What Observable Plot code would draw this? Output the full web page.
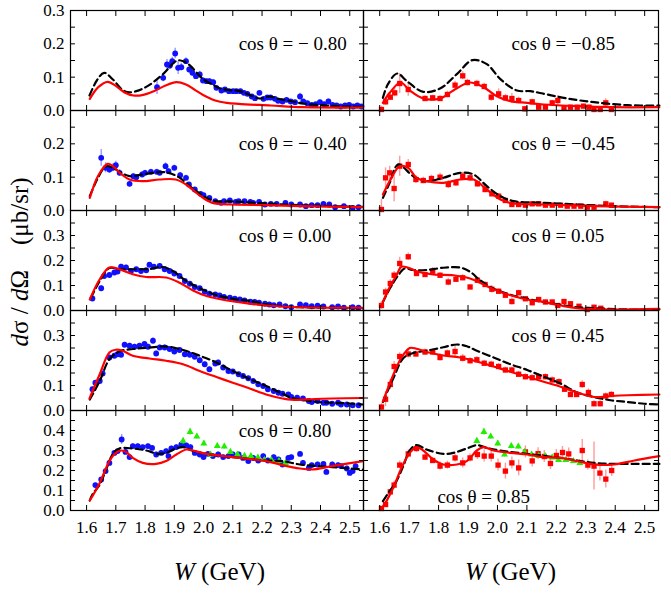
<!DOCTYPE html>
<html>
<head>
<meta charset="utf-8">
<script src="https://cdn.jsdelivr.net/npm/d3@7"></script>
<script src="https://cdn.jsdelivr.net/npm/@observablehq/plot@0.6"></script>
<style>
  body { margin: 0; background: #fff; }
  #chart { position: relative; width: 671px; height: 600px; font-family: "Liberation Serif", "Times New Roman", serif; color: #000; }
  #chart svg text { font-family: "Liberation Serif", "Times New Roman", serif; }
  .xt { position: absolute; top: 572px; transform: translate(-50%, -50%); font-size: 25px; white-space: nowrap; }
  .yt { position: absolute; left: 20px; top: 262px; transform: translate(-50%, -50%) rotate(-90deg); font-size: 25px; white-space: nowrap; }
</style>
</head>
<body>
<div id="chart">
  <div class="yt"><i>d</i>σ / <i>d</i>Ω&emsp;(μb/sr)</div>
  <div class="xt" style="left:219.5px"><i>W</i> (GeV)</div>
  <div class="xt" style="left:510.5px"><i>W</i> (GeV)</div>
</div>
<script>
// ---------- axes ----------
const xDomain = [1.545, 2.547];
const wTicks = [1.6, 1.7, 1.8, 1.9, 2.0, 2.1, 2.2, 2.3, 2.4, 2.5];
const yMinor03 = [0, 0.05, 0.1, 0.15, 0.2, 0.25, 0.3];
const yMinor04 = [0, 0.05, 0.1, 0.15, 0.2, 0.25, 0.3, 0.35, 0.4];
const yMinor05 = [0, 0.05, 0.1, 0.15, 0.2, 0.25, 0.3, 0.35, 0.4, 0.45, 0.5];
const yLabels1 = [0, 0.1, 0.2, 0.3];
const yLabels2 = [0, 0.1, 0.2];
const yLabels3 = [0, 0.1, 0.2, 0.3];
const yLabels4 = [0, 0.1, 0.2, 0.3];
const yLabels5 = [0, 0.1, 0.2, 0.3, 0.4];
const rowMax = [0.3, 0.3, 0.4, 0.4, 0.5];
const labelsL = ["cos θ = − 0.80", "cos θ = − 0.40", "cos θ = 0.00", "cos θ = 0.40", "cos θ = 0.80"];
const labelsR = ["cos θ = −0.85", "cos θ = −0.45", "cos θ = 0.05", "cos θ = 0.45", "cos θ = 0.85"];

// ---------- row 1 ----------
const dashL1 = [[1.610,0.045],[1.635,0.09],[1.660,0.113],[1.690,0.093],[1.720,0.064],[1.740,0.055],[1.770,0.058],[1.810,0.074],[1.860,0.108],[1.910,0.150],[1.935,0.146],[1.955,0.134],[1.980,0.11],[2.000,0.093],[2.030,0.078],[2.055,0.067],[2.090,0.061],[2.120,0.059],[2.160,0.046],[2.192,0.036],[2.225,0.042],[2.260,0.034],[2.290,0.030],[2.340,0.021],[2.400,0.016],[2.460,0.013],[2.545,0.011]];
const redL1 = [[1.611,0.035],[1.640,0.07],[1.672,0.086],[1.700,0.074],[1.730,0.054],[1.760,0.045],[1.790,0.046],[1.830,0.058],[1.870,0.075],[1.907,0.085],[1.940,0.078],[1.970,0.062],[2.000,0.046],[2.040,0.03],[2.080,0.023],[2.120,0.02],[2.230,0.015],[2.340,0.01],[2.545,0.009]];
const blueL1 = [[1.841,0.070,0.022],[1.862,0.098,0.012],[1.875,0.138,0.015],[1.885,0.135,0.012],[1.893,0.148,0.012],[1.903,0.171,0.016],[1.913,0.128,0.02],[1.924,0.130,0.012],[1.940,0.148,0.01],[1.951,0.123,0.01],[1.962,0.113,0.01],[1.974,0.103,0.008],[1.987,0.108,0.01],[1.998,0.090,0.008],[2.010,0.088,0.008],[2.020,0.088,0.008],[2.033,0.085,0.008],[2.044,0.068,0.006],[2.061,0.060,0.006],[2.073,0.063,0.006],[2.087,0.058,0.006],[2.101,0.058,0.006],[2.112,0.058,0.006],[2.126,0.058,0.006],[2.138,0.053,0.006],[2.150,0.050,0.006],[2.165,0.042,0.006],[2.176,0.037,0.006],[2.191,0.053,0.006],[2.205,0.035,0.006],[2.218,0.039,0.006],[2.229,0.039,0.006],[2.244,0.035,0.006],[2.255,0.029,0.006],[2.270,0.027,0.006],[2.284,0.032,0.006],[2.298,0.027,0.006],[2.313,0.025,0.006],[2.330,0.042,0.01],[2.341,0.027,0.006],[2.355,0.022,0.006],[2.370,0.017,0.006],[2.384,0.019,0.006],[2.398,0.025,0.006],[2.412,0.019,0.006],[2.427,0.027,0.008],[2.441,0.017,0.006],[2.455,0.015,0.006],[2.469,0.012,0.006],[2.484,0.015,0.006],[2.498,0.017,0.006],[2.512,0.012,0.006],[2.526,0.015,0.006],[2.540,0.012,0.006]];
const dashR1 = [[1.611,0.038],[1.628,0.079],[1.660,0.111],[1.691,0.089],[1.748,0.056],[1.805,0.066],[1.862,0.109],[1.915,0.151],[1.964,0.139],[2.010,0.094],[2.066,0.06],[2.112,0.058],[2.169,0.048],[2.237,0.036],[2.328,0.025],[2.442,0.016],[2.550,0.015]];
const redR1 = [[1.611,0.023],[1.634,0.053],[1.671,0.084],[1.702,0.06],[1.748,0.036],[1.805,0.036],[1.850,0.06],[1.905,0.084],[1.953,0.07],[1.998,0.043],[2.044,0.028],[2.101,0.023],[2.157,0.018],[2.271,0.013],[2.385,0.01],[2.550,0.01]];
const sqR1 = [[1.606,0.003,0.01],[1.620,0.026,0.01],[1.636,0.04,0.01],[1.651,0.053,0.012],[1.668,0.081,0.03],[1.697,0.063,0.02],[1.754,0.036,0.008],[1.780,0.038,0.008],[1.805,0.036,0.008],[1.830,0.048,0.01],[1.856,0.076,0.012],[1.882,0.104,0.012],[1.898,0.084,0.01],[1.930,0.081,0.01],[1.955,0.072,0.01],[1.979,0.04,0.012],[2.004,0.05,0.015],[2.027,0.038,0.01],[2.049,0.036,0.015],[2.072,0.03,0.01],[2.093,0.005,0.008],[2.118,0.026,0.008],[2.140,0.01,0.006],[2.163,0.01,0.006],[2.186,0.023,0.008],[2.205,0.03,0.015],[2.226,0.008,0.006],[2.248,0.01,0.006],[2.271,0.01,0.006],[2.292,0.013,0.006],[2.311,0.01,0.006],[2.328,0.003,0.005],[2.349,0.003,0.005],[2.368,0.023,0.012],[2.387,0.003,0.005]];

// ---------- row 2 ----------
const dashL2 = [[1.611,0.043],[1.640,0.10],[1.667,0.133],[1.690,0.128],[1.720,0.112],[1.747,0.103],[1.790,0.108],[1.850,0.115],[1.880,0.113],[1.915,0.10],[1.960,0.068],[2.010,0.038],[2.040,0.028],[2.100,0.027],[2.214,0.021],[2.330,0.016],[2.440,0.013],[2.545,0.011]];
const redL2 = [[1.611,0.038],[1.640,0.105],[1.672,0.14],[1.690,0.133],[1.720,0.108],[1.747,0.093],[1.790,0.088],[1.850,0.093],[1.905,0.093],[1.940,0.078],[1.990,0.043],[2.030,0.023],[2.100,0.018],[2.210,0.016],[2.330,0.013],[2.545,0.01]];
const blueL2 = [[1.650,0.158,0.025],[1.665,0.128,0.015],[1.678,0.123,0.012],[1.690,0.128,0.012],[1.700,0.136,0.012],[1.713,0.113,0.01],[1.747,0.080,0.008],[1.760,0.103,0.008],[1.770,0.100,0.008],[1.790,0.108,0.008],[1.800,0.113,0.008],[1.820,0.116,0.008],[1.840,0.116,0.008],[1.850,0.113,0.008],[1.870,0.133,0.01],[1.880,0.118,0.008],[1.900,0.128,0.008],[1.920,0.106,0.008],[1.940,0.098,0.008],[1.950,0.078,0.006],[1.970,0.063,0.006],[1.990,0.050,0.006],[2.000,0.046,0.006],[2.020,0.038,0.005],[2.040,0.028,0.005],[2.060,0.023,0.005],[2.070,0.028,0.005],[2.090,0.030,0.005],[2.110,0.026,0.005],[2.120,0.028,0.005],[2.140,0.028,0.005],[2.160,0.026,0.005],[2.170,0.023,0.005],[2.190,0.026,0.005],[2.210,0.018,0.005],[2.230,0.020,0.005],[2.250,0.020,0.005],[2.280,0.023,0.005],[2.300,0.018,0.005],[2.330,0.018,0.005],[2.350,0.013,0.005],[2.370,0.016,0.005],[2.390,0.016,0.005],[2.410,0.020,0.005],[2.430,0.018,0.005],[2.450,0.010,0.005],[2.480,0.013,0.005],[2.510,0.008,0.005],[2.530,0.010,0.005]];
const dashR2 = [[1.611,0.038],[1.634,0.083],[1.663,0.138],[1.714,0.103],[1.759,0.088],[1.816,0.098],[1.873,0.113],[1.919,0.108],[1.964,0.073],[2.010,0.043],[2.055,0.028],[2.157,0.023],[2.271,0.018],[2.385,0.013],[2.550,0.01]];
const redR2 = [[1.611,0.048],[1.640,0.098],[1.668,0.133],[1.697,0.128],[1.725,0.098],[1.759,0.088],[1.816,0.083],[1.873,0.093],[1.919,0.093],[1.964,0.063],[2.010,0.033],[2.055,0.021],[2.157,0.018],[2.328,0.013],[2.550,0.01]];
const sqR2 = [[1.606,0.003,0.03],[1.620,0.098,0.03],[1.634,0.113,0.02],[1.649,0.066,0.04],[1.668,0.133,0.03],[1.697,0.138,0.015],[1.723,0.093,0.012],[1.748,0.09,0.01],[1.776,0.096,0.01],[1.805,0.1,0.012],[1.833,0.078,0.012],[1.859,0.083,0.01],[1.882,0.103,0.012],[1.907,0.098,0.01],[1.932,0.08,0.01],[1.958,0.063,0.01],[1.981,0.05,0.008],[2.004,0.043,0.008],[2.027,0.03,0.008],[2.049,0.018,0.006],[2.072,0.018,0.006],[2.095,0.016,0.006],[2.118,0.02,0.006],[2.140,0.02,0.006],[2.163,0.016,0.006],[2.186,0.016,0.006],[2.214,0.016,0.006],[2.237,0.013,0.005],[2.260,0.013,0.005],[2.283,0.013,0.005],[2.305,0.01,0.005],[2.328,0.01,0.005],[2.368,0.02,0.008],[2.387,0.016,0.006]];

// ---------- row 3 ----------
const dashL3 = [[1.615,0.051],[1.645,0.118],[1.678,0.170],[1.712,0.165],[1.758,0.165],[1.815,0.166],[1.861,0.174],[1.895,0.158],[1.941,0.118],[1.987,0.089],[2.044,0.062],[2.100,0.047],[2.160,0.038],[2.214,0.025],[2.270,0.017],[2.330,0.013],[2.440,0.011],[2.545,0.008]];
const redL3 = [[1.611,0.044],[1.645,0.125],[1.678,0.172],[1.712,0.165],[1.758,0.145],[1.804,0.134],[1.872,0.132],[1.918,0.111],[1.964,0.080],[2.010,0.058],[2.080,0.040],[2.160,0.027],[2.214,0.020],[2.330,0.013],[2.545,0.011]];
const blueL3 = [[1.620,0.048,0.008],[1.650,0.089,0.01],[1.660,0.138,0.01],[1.678,0.142,0.01],[1.695,0.152,0.01],[1.706,0.156,0.01],[1.718,0.175,0.01],[1.735,0.172,0.01],[1.752,0.158,0.008],[1.770,0.165,0.008],[1.786,0.158,0.008],[1.804,0.161,0.008],[1.815,0.183,0.008],[1.830,0.175,0.008],[1.850,0.178,0.008],[1.867,0.165,0.008],[1.884,0.158,0.008],[1.900,0.148,0.008],[1.918,0.138,0.008],[1.936,0.118,0.008],[1.953,0.107,0.006],[1.970,0.094,0.006],[1.987,0.089,0.006],[2.004,0.075,0.006],[2.020,0.067,0.006],[2.040,0.064,0.006],[2.055,0.060,0.005],[2.070,0.054,0.005],[2.090,0.051,0.005],[2.107,0.047,0.005],[2.124,0.044,0.005],[2.140,0.040,0.005],[2.160,0.035,0.005],[2.175,0.034,0.005],[2.190,0.031,0.005],[2.210,0.027,0.005],[2.225,0.024,0.005],[2.240,0.021,0.005],[2.260,0.024,0.005],[2.280,0.017,0.005],[2.300,0.013,0.005],[2.330,0.024,0.005],[2.350,0.021,0.005],[2.370,0.017,0.005],[2.390,0.019,0.005],[2.410,0.016,0.005],[2.440,0.013,0.005],[2.460,0.016,0.005],[2.480,0.011,0.005],[2.510,0.013,0.005],[2.530,0.011,0.005]];
const dashR3 = [[1.611,0.034],[1.634,0.087],[1.663,0.141],[1.685,0.168],[1.714,0.162],[1.759,0.162],[1.816,0.171],[1.873,0.172],[1.907,0.155],[1.941,0.121],[1.987,0.087],[2.044,0.063],[2.101,0.047],[2.157,0.034],[2.214,0.023],[2.271,0.013],[2.328,0.009],[2.442,0.004],[2.550,0.004]];
const redR3 = [[1.611,0.034],[1.634,0.094],[1.657,0.141],[1.674,0.175],[1.697,0.171],[1.725,0.157],[1.782,0.144],[1.850,0.141],[1.907,0.128],[1.953,0.104],[1.987,0.085],[2.044,0.061],[2.101,0.044],[2.157,0.034],[2.214,0.02],[2.271,0.009],[2.385,0.004],[2.550,0.007]];
const sqR3 = [[1.606,0.02,0.015],[1.620,0.074,0.015],[1.636,0.108,0.015],[1.649,0.141,0.015],[1.668,0.188,0.025],[1.697,0.215,0.015],[1.725,0.148,0.01],[1.754,0.144,0.01],[1.780,0.157,0.015],[1.805,0.141,0.01],[1.833,0.114,0.015],[1.859,0.125,0.012],[1.882,0.131,0.012],[1.907,0.094,0.01],[1.932,0.121,0.01],[1.958,0.104,0.01],[1.981,0.085,0.015],[2.004,0.077,0.01],[2.027,0.061,0.01],[2.049,0.036,0.015],[2.072,0.071,0.01],[2.095,0.047,0.008],[2.118,0.031,0.008],[2.140,0.044,0.008],[2.163,0.034,0.008],[2.186,0.034,0.008],[2.205,0.02,0.008],[2.226,0.036,0.008],[2.248,0.027,0.008],[2.277,0.017,0.006],[2.305,0.004,0.006],[2.328,0.013,0.006],[2.351,0.009,0.006]];

// ---------- row 4 ----------
const dashL4 = [[1.611,0.044],[1.645,0.118],[1.678,0.205],[1.712,0.236],[1.758,0.246],[1.815,0.252],[1.872,0.256],[1.930,0.242],[1.987,0.219],[2.044,0.192],[2.100,0.158],[2.160,0.125],[2.214,0.098],[2.270,0.067],[2.300,0.051],[2.350,0.040],[2.390,0.034],[2.440,0.031],[2.500,0.028],[2.545,0.024]];
const redL4 = [[1.610,0.048],[1.645,0.145],[1.678,0.232],[1.700,0.243],[1.723,0.239],[1.758,0.219],[1.815,0.208],[1.872,0.199],[1.930,0.185],[1.987,0.158],[2.044,0.134],[2.100,0.111],[2.160,0.087],[2.214,0.064],[2.270,0.048],[2.300,0.043],[2.380,0.046],[2.440,0.048],[2.545,0.050]];
const blueL4 = [[1.620,0.085,0.01],[1.630,0.111,0.01],[1.645,0.118,0.01],[1.655,0.148,0.01],[1.678,0.212,0.01],[1.695,0.219,0.01],[1.706,0.225,0.01],[1.718,0.223,0.01],[1.730,0.263,0.01],[1.747,0.259,0.01],[1.764,0.255,0.01],[1.781,0.259,0.01],[1.798,0.266,0.01],[1.810,0.255,0.01],[1.827,0.279,0.012],[1.838,0.228,0.01],[1.850,0.252,0.01],[1.867,0.252,0.01],[1.884,0.246,0.01],[1.900,0.236,0.01],[1.918,0.242,0.01],[1.936,0.225,0.01],[1.953,0.223,0.01],[1.970,0.215,0.01],[1.987,0.201,0.01],[2.004,0.185,0.01],[2.020,0.165,0.01],[2.040,0.188,0.01],[2.050,0.192,0.01],[2.067,0.172,0.01],[2.085,0.158,0.008],[2.100,0.156,0.008],[2.120,0.145,0.008],[2.135,0.138,0.008],[2.153,0.129,0.008],[2.170,0.118,0.008],[2.187,0.105,0.008],[2.204,0.098,0.008],[2.220,0.085,0.008],[2.240,0.078,0.008],[2.256,0.071,0.008],[2.270,0.067,0.008],[2.290,0.064,0.008],[2.300,0.054,0.008],[2.320,0.051,0.008],[2.340,0.048,0.008],[2.360,0.038,0.006],[2.370,0.034,0.006],[2.390,0.038,0.006],[2.410,0.031,0.006],[2.420,0.031,0.006],[2.440,0.027,0.006],[2.460,0.031,0.006],[2.470,0.024,0.006],[2.490,0.024,0.006],[2.510,0.021,0.006],[2.530,0.021,0.006]];
const dashR4 = [[1.611,0.034],[1.646,0.128],[1.680,0.209],[1.714,0.23],[1.759,0.239],[1.816,0.253],[1.862,0.264],[1.896,0.257],[1.930,0.239],[1.987,0.212],[2.044,0.185],[2.101,0.162],[2.157,0.135],[2.214,0.108],[2.271,0.072],[2.328,0.054],[2.385,0.041],[2.442,0.034],[2.499,0.027],[2.550,0.024]];
const redR4 = [[1.611,0.036],[1.646,0.142],[1.674,0.212],[1.702,0.25],[1.725,0.247],[1.759,0.234],[1.816,0.22],[1.873,0.212],[1.930,0.196],[1.987,0.176],[2.044,0.155],[2.101,0.135],[2.157,0.115],[2.214,0.095],[2.271,0.072],[2.328,0.054],[2.385,0.058],[2.442,0.061],[2.550,0.064]];
const sqR4 = [[1.606,0.014,0.015],[1.620,0.045,0.03],[1.636,0.104,0.02],[1.649,0.176,0.02],[1.668,0.216,0.015],[1.697,0.226,0.015],[1.723,0.226,0.012],[1.754,0.234,0.012],[1.780,0.234,0.012],[1.805,0.212,0.015],[1.830,0.23,0.012],[1.856,0.236,0.02],[1.882,0.209,0.015],[1.907,0.199,0.012],[1.930,0.203,0.012],[1.955,0.189,0.012],[1.979,0.185,0.012],[2.004,0.176,0.012],[2.027,0.162,0.012],[2.049,0.162,0.012],[2.072,0.145,0.012],[2.095,0.135,0.012],[2.118,0.131,0.012],[2.140,0.135,0.012],[2.163,0.135,0.012],[2.186,0.122,0.012],[2.209,0.115,0.012],[2.228,0.085,0.012],[2.248,0.064,0.012],[2.269,0.064,0.012],[2.288,0.104,0.015],[2.309,0.072,0.015],[2.328,0.027,0.012],[2.349,0.027,0.012],[2.368,0.058,0.012],[2.387,0.064,0.012]];

// ---------- row 5 ----------
const dashL5 = [[1.611,0.05],[1.620,0.08],[1.645,0.13],[1.667,0.205],[1.690,0.283],[1.712,0.31],[1.758,0.31],[1.804,0.30],[1.844,0.283],[1.872,0.288],[1.907,0.31],[1.930,0.317],[1.960,0.30],[2.010,0.283],[2.100,0.267],[2.210,0.25],[2.270,0.247],[2.330,0.23],[2.440,0.217],[2.545,0.205]];
const redL5 = [[1.611,0.05],[1.645,0.138],[1.678,0.247],[1.700,0.288],[1.718,0.30],[1.735,0.293],[1.758,0.263],[1.792,0.238],[1.838,0.233],[1.872,0.247],[1.907,0.28],[1.941,0.305],[1.964,0.30],[2.010,0.283],[2.100,0.267],[2.214,0.247],[2.270,0.227],[2.330,0.21],[2.370,0.205],[2.440,0.222],[2.545,0.247]];
const blueL5 = [[1.630,0.127,0.01],[1.650,0.155,0.01],[1.665,0.197,0.01],[1.678,0.238,0.012],[1.695,0.288,0.012],[1.706,0.297,0.012],[1.720,0.355,0.025],[1.733,0.293,0.012],[1.747,0.267,0.012],[1.758,0.322,0.012],[1.775,0.322,0.012],[1.792,0.317,0.012],[1.810,0.322,0.012],[1.824,0.313,0.012],[1.838,0.280,0.012],[1.855,0.288,0.012],[1.872,0.297,0.012],[1.880,0.272,0.012],[1.890,0.310,0.012],[1.907,0.317,0.012],[1.924,0.330,0.012],[1.941,0.325,0.012],[1.955,0.317,0.012],[1.970,0.288,0.012],[1.987,0.280,0.012],[2.000,0.267,0.012],[2.015,0.283,0.012],[2.032,0.272,0.012],[2.050,0.280,0.012],[2.067,0.267,0.012],[2.085,0.272,0.012],[2.100,0.280,0.012],[2.120,0.280,0.012],[2.135,0.263,0.012],[2.153,0.247,0.012],[2.170,0.263,0.012],[2.187,0.250,0.012],[2.204,0.272,0.012],[2.220,0.250,0.012],[2.240,0.267,0.012],[2.256,0.255,0.012],[2.270,0.230,0.012],[2.290,0.263,0.012],[2.300,0.267,0.012],[2.330,0.283,0.012],[2.340,0.238,0.012],[2.360,0.213,0.012],[2.370,0.227,0.012],[2.390,0.230,0.012],[2.410,0.233,0.012],[2.420,0.193,0.012],[2.440,0.230,0.012],[2.460,0.227,0.012],[2.470,0.222,0.012],[2.490,0.210,0.012],[2.500,0.188,0.012],[2.510,0.197,0.012],[2.520,0.222,0.012]];
const greenTri = [[1.930,0.348,0.015],[1.954,0.393,0.018],[1.977,0.370,0.015],[2.001,0.335,0.015],[2.024,0.280,0.015],[2.047,0.322,0.015],[2.071,0.320,0.015],[2.092,0.293,0.012],[2.116,0.280,0.012],[2.140,0.273,0.012],[2.162,0.272,0.012],[2.186,0.265,0.012],[2.208,0.252,0.012],[2.232,0.252,0.012],[2.258,0.247,0.012],[2.280,0.238,0.012]];
const dashR5 = [[1.611,0.047],[1.634,0.097],[1.657,0.147],[1.680,0.222],[1.702,0.30],[1.725,0.327],[1.759,0.305],[1.816,0.283],[1.850,0.288],[1.896,0.31],[1.930,0.327],[1.964,0.313],[2.010,0.30],[2.101,0.283],[2.214,0.263],[2.271,0.25],[2.328,0.238],[2.385,0.233],[2.442,0.233],[2.550,0.233]];
const redR5 = [[1.611,0.02],[1.623,0.047],[1.646,0.113],[1.674,0.213],[1.702,0.288],[1.725,0.317],[1.748,0.30],[1.782,0.255],[1.816,0.23],[1.862,0.23],[1.896,0.247],[1.930,0.30],[1.953,0.317],[1.987,0.30],[2.044,0.288],[2.101,0.28],[2.157,0.267],[2.214,0.263],[2.271,0.247],[2.328,0.23],[2.396,0.23],[2.465,0.25],[2.550,0.272]];
const sqR5 = [[1.606,0.01,0.01],[1.620,0.03,0.015],[1.636,0.093,0.015],[1.649,0.127,0.02],[1.668,0.227,0.02],[1.697,0.283,0.02],[1.725,0.31,0.02],[1.754,0.267,0.015],[1.780,0.25,0.015],[1.805,0.222,0.02],[1.830,0.227,0.02],[1.856,0.263,0.02],[1.882,0.238,0.025],[1.907,0.263,0.02],[1.932,0.28,0.025],[1.955,0.272,0.03],[1.979,0.272,0.03],[2.002,0.227,0.03],[2.027,0.197,0.04],[2.049,0.238,0.03],[2.072,0.213,0.04],[2.095,0.293,0.03],[2.118,0.248,0.03],[2.138,0.284,0.03],[2.159,0.27,0.03],[2.180,0.235,0.03],[2.200,0.275,0.03],[2.221,0.29,0.03],[2.242,0.283,0.03],[2.288,0.30,0.055],[2.307,0.227,0.025],[2.328,0.222,0.12],[2.348,0.187,0.04],[2.368,0.157,0.045],[2.388,0.20,0.03]];

// ---------- colours & font ----------
const BLUE = "#1010ff", LBLUE = "#9a9aff";
const RED = "#ff0000", LRED = "#ff9a9a";
const GREEN = "#22ee00", LGREEN = "#a6f79a";
const FONT = '"Liberation Serif", "Times New Roman", serif';

const panels = [
  {row: 0, col: 0, pts: blueL1, dash: dashL1, red: redL1, label: labelsL[0], lx: 2.12, ly: 0.2},
  {row: 0, col: 1, pts: sqR1, dash: dashR1, red: redR1, label: labelsR[0], lx: 2.048, ly: 0.2},
  {row: 1, col: 0, pts: blueL2, dash: dashL2, red: redL2, label: labelsL[1], lx: 2.12, ly: 0.2},
  {row: 1, col: 1, pts: sqR2, dash: dashR2, red: redR2, label: labelsR[1], lx: 2.048, ly: 0.2},
  {row: 2, col: 0, pts: blueL3, dash: dashL3, red: redL3, label: labelsL[2], lx: 2.12, ly: 0.3},
  {row: 2, col: 1, pts: sqR3, dash: dashR3, red: redR3, label: labelsR[2], lx: 2.048, ly: 0.3},
  {row: 3, col: 0, pts: blueL4, dash: dashL4, red: redL4, label: labelsL[3], lx: 2.12, ly: 0.3},
  {row: 3, col: 1, pts: sqR4, dash: dashR4, red: redR4, label: labelsR[3], lx: 2.048, ly: 0.3},
  {row: 4, col: 0, pts: blueL5, dash: dashL5, red: redL5, green: greenTri, label: labelsL[4], lx: 2.12, ly: 0.4},
  {row: 4, col: 1, pts: sqR5, dash: dashR5, red: redR5, green: greenTri, label: labelsR[4], lx: 1.796, ly: 0.07}
];
const rowMinor = [yMinor03, yMinor03, yMinor04, yMinor04, yMinor05];
const rowLabels = [yLabels1, yLabels2, yLabels3, yLabels4, yLabels5];

const chart = document.getElementById("chart");
const fmt = d => d.toFixed(1);

function errBars(data, color) {
  return Plot.ruleX(data, {x: d => d[0], y1: d => d[1] - d[2], y2: d => d[1] + d[2], stroke: color, strokeWidth: 1.4, clip: true});
}

for (const p of panels) {
  const w = p.col === 0 ? 293 : 295;
  const h = 100;
  const isL = p.col === 0;
  const marks = [
    errBars(p.pts, isL ? LBLUE : LRED),
    Plot.dot(p.pts, {x: d => d[0], y: d => d[1], r: isL ? 2.9 : 3.0, symbol: isL ? "circle" : "square", fill: isL ? BLUE : RED})
  ];
  if (p.green) {
    marks.push(errBars(p.green, LGREEN));
    marks.push(Plot.dot(p.green, {x: d => d[0], y: d => d[1], r: 2.6, symbol: "triangle", fill: GREEN}));
  }
  marks.push(
    Plot.line(p.dash, {x: d => d[0], y: d => d[1], curve: "catmull-rom", stroke: "#000", strokeWidth: 2.2, strokeDasharray: "7,4"}),
    Plot.line(p.red, {x: d => d[0], y: d => d[1], curve: "catmull-rom", stroke: RED, strokeWidth: 2.2}),
    Plot.text([p.label], {x: () => p.lx, y: () => p.ly, text: d => d, textAnchor: "start", lineAnchor: "middle", fontSize: 19, fontFamily: FONT}),
    Plot.frame({stroke: "#000", strokeWidth: 1.2}),
    Plot.axisX(wTicks, {anchor: "bottom", tickSize: -5, fill: "none", label: null}),
    Plot.axisX(wTicks, {anchor: "top", tickSize: -5, fill: "none", label: null}),
    Plot.axisY(rowMinor[p.row], {anchor: "left", tickSize: -5, fill: "none", label: null}),
    Plot.axisY(rowMinor[p.row], {anchor: "right", tickSize: -5, fill: "none", label: null})
  );
  if (isL) {
    marks.push(Plot.axisY(rowLabels[p.row], {anchor: "left", tickSize: 0, tickPadding: 6, tickFormat: fmt, label: null, fontSize: 17, fontFamily: FONT}));
  }
  if (p.row === 4) {
    marks.push(Plot.axisX(wTicks, {anchor: "bottom", tickSize: 0, tickPadding: 10, tickFormat: fmt, label: null, fontSize: 17, fontFamily: FONT}));
  }
  const svg = Plot.plot({
    width: w,
    height: h,
    margin: 0,
    x: {domain: xDomain},
    y: {domain: [0, rowMax[p.row]]},
    style: {fontFamily: FONT, fontSize: "17px", overflow: "visible", background: "none", color: "#000"},
    marks
  });
  svg.setAttribute("font-family", FONT);
  svg.style.position = "absolute";
  svg.style.left = (isL ? 70 : 363) + "px";
  svg.style.top = (10 + p.row * 100) + "px";
  svg.style.overflow = "visible";
  svg.style.background = "none";
  svg.style.fontFamily = FONT;
  chart.appendChild(svg);
}
</script>
</body>
</html>
